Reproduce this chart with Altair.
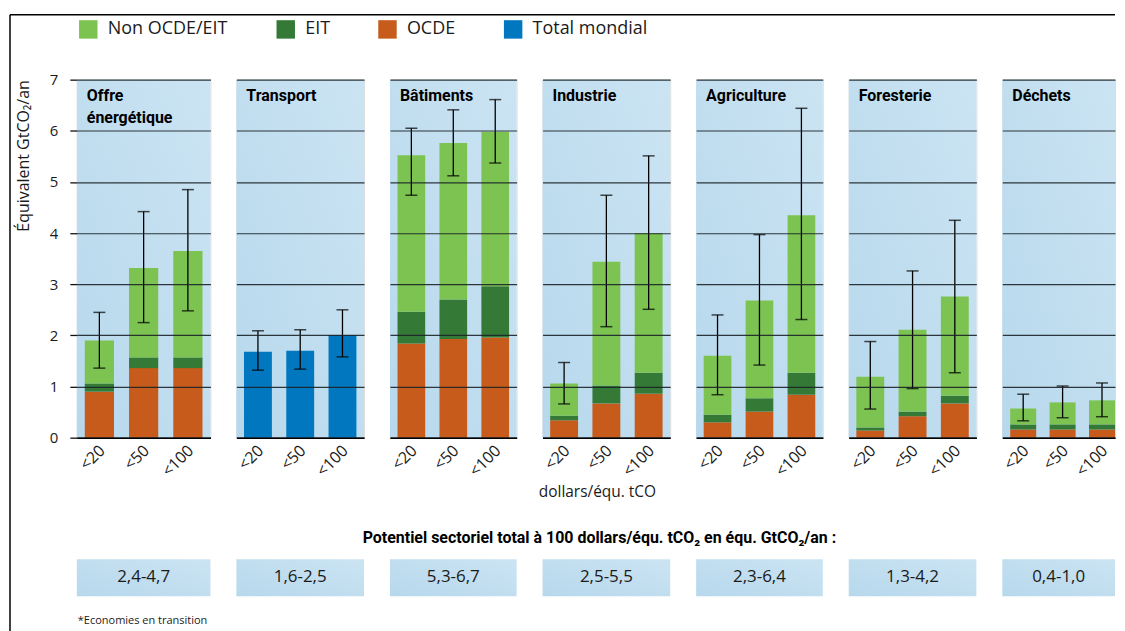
import altair as alt
import pandas as pd

# ---------------- data ----------------
sectors = ["Offre\nénergétique", "Transport", "Bâtiments", "Industrie",
           "Agriculture", "Foresterie", "Déchets"]
prices = ["<20", "<50", "<100"]
series_names = ["Non OCDE/EIT", "EIT", "OCDE", "Total mondial"]
series_colors = ["#7DC352", "#347A36", "#C75B1C", "#0077BF"]

# cumulative tops of each stacked segment (GtCO2-eq/yr)
ocde_top = [[0.90, 1.36, 1.36], None, [1.84, 1.93, 1.96], [0.34, 0.67, 0.86],
            [0.30, 0.51, 0.84], [0.14, 0.42, 0.67], [0.16, 0.16, 0.16]]
eit_top = [[1.06, 1.57, 1.57], None, [2.46, 2.70, 2.96], [0.43, 1.02, 1.27],
           [0.45, 0.77, 1.27], [0.20, 0.51, 0.82], [0.26, 0.26, 0.26]]
total_top = [[1.90, 3.32, 3.65], [1.68, 1.70, 2.01], [5.52, 5.76, 5.98],
             [1.06, 3.44, 4.00], [1.60, 2.68, 4.35], [1.19, 2.11, 2.76],
             [0.57, 0.69, 0.73]]
err_low = [[1.36, 2.25, 2.48], [1.32, 1.34, 1.58], [4.74, 5.12, 5.37],
           [0.66, 2.17, 2.51], [0.84, 1.42, 2.31], [0.56, 0.96, 1.27],
           [0.33, 0.39, 0.41]]
err_high = [[2.45, 4.42, 4.85], [2.09, 2.11, 2.50], [6.05, 6.41, 6.61],
            [1.47, 4.74, 5.51], [2.40, 3.97, 6.44], [1.88, 3.26, 4.25],
            [0.85, 1.01, 1.07]]
potential_ranges = ["2,4-4,7", "1,6-2,5", "5,3-6,7", "2,5-5,5",
                    "2,3-6,4", "1,3-4,2", "0,4-1,0"]
y_ticks = [0, 1, 2, 3, 4, 5, 6, 7]

# ---------------- layout / style ----------------
panel_widths = [134, 128, 127, 128, 127, 128, 113]
H = 359
FONT = "Open Sans"
BOLD = "Roboto"

bg_grad = alt.LinearGradient(
    gradient="linear",
    stops=[alt.GradientStop(color="#B7D8EC", offset=0),
           alt.GradientStop(color="#CBE4F3", offset=1)],
    x1=0, y1=1, x2=1, y2=0)

yscale = alt.Scale(domain=[0, 7], nice=False, zero=True)
color_scale = alt.Scale(domain=series_names, range=series_colors)
legend = alt.Legend(title=None, orient="none", legendX=2, legendY=-60,
                    direction="horizontal", symbolType="square",
                    symbolSize=342, symbolStrokeWidth=0, labelFontSize=18,
                    labelFont=FONT, labelColor="#1a1a1a", columnPadding=48,
                    labelOffset=10, labelLimit=400)

one = alt.Data(values=[{"k": 0}])

panels = []
for i, sec in enumerate(sectors):
    w = panel_widths[i]
    rows = []
    erows = []
    for j, p in enumerate(prices):
        if ocde_top[i] is None:
            rows.append(dict(price=p, series="Total mondial",
                             top=total_top[i][j], bottom=0.0))
        else:
            rows.append(dict(price=p, series="OCDE",
                             top=ocde_top[i][j], bottom=0.0))
            rows.append(dict(price=p, series="EIT",
                             top=eit_top[i][j], bottom=ocde_top[i][j]))
            rows.append(dict(price=p, series="Non OCDE/EIT",
                             top=total_top[i][j], bottom=eit_top[i][j]))
        erows.append(dict(price=p, lo=err_low[i][j], hi=err_high[i][j]))
    df = pd.DataFrame(rows)
    edf = pd.DataFrame(erows)

    if i == len(sectors) - 1:
        xscale = alt.Scale(paddingInner=0.34, paddingOuter=0.10, align=1)
    else:
        xscale = alt.Scale(paddingInner=0.34, paddingOuter=0.18)

    x_axis = alt.Axis(title=None, labelAngle=-45, labelAlign="right",
                      labelBaseline="middle", labelPadding=10, labelOffset=3,
                      labelFontSize=16, labelFont=FONT, labelColor="#1a1a1a",
                      ticks=False, domain=True, domainColor="#000000",
                      domainWidth=1.5, zindex=1)
    if i == 0:
        y_axis = alt.Axis(title="Équivalent GtCO₂/an", titleAnchor="end",
                          titleFont=FONT, titleFontSize=16,
                          titleFontWeight="normal", titleColor="#1a1a1a",
                          titlePadding=18, values=y_ticks, format="d",
                          labelFont=FONT, labelFontSize=15,
                          labelColor="#1a1a1a", labelPadding=12,
                          tickSize=7, tickColor="#111111", tickWidth=1.3,
                          domain=False, grid=True, gridColor="#1b2328",
                          gridWidth=1.2, gridOpacity=0.9, zindex=1)
    else:
        y_axis = alt.Axis(title=None, values=y_ticks, labels=False,
                          ticks=False, domain=False, grid=True,
                          gridColor="#1b2328", gridWidth=1.2,
                          gridOpacity=0.9, zindex=1)

    xenc = alt.X("price:N", sort=prices, scale=xscale, axis=x_axis)

    bg = alt.Chart(one).mark_rect(color=bg_grad).encode(
        x=alt.value(0), x2=alt.value(w), y=alt.value(0), y2=alt.value(H))

    bars = alt.Chart(df).mark_bar().encode(
        x=xenc,
        y=alt.Y("top:Q", scale=yscale, axis=y_axis),
        y2="bottom:Q",
        color=alt.Color("series:N", scale=color_scale, legend=legend))

    err = alt.Chart(edf).mark_rule(color="#000000", strokeWidth=1.3).encode(
        x=xenc, y=alt.Y("lo:Q", scale=yscale, axis=y_axis), y2="hi:Q")
    cap_lo = alt.Chart(edf).mark_tick(color="#000000", thickness=1.5,
                                      size=12).encode(
        x=xenc, y=alt.Y("lo:Q", scale=yscale, axis=y_axis))
    cap_hi = alt.Chart(edf).mark_tick(color="#000000", thickness=1.5,
                                      size=12).encode(
        x=xenc, y=alt.Y("hi:Q", scale=yscale, axis=y_axis))

    title = alt.Chart(alt.Data(values=[{"t": sec}])).mark_text(
        align="left", baseline="top", font=BOLD, fontSize=16,
        fontWeight="bold", lineBreak="\n", lineHeight=22,
        color="#000000").encode(
        x=alt.value(10), y=alt.value(8), text="t:N")

    box = alt.Chart(one).mark_rect(color=bg_grad).encode(
        x=alt.value(0), x2=alt.value(w), y=alt.value(H + 122),
        y2=alt.value(H + 159))
    box_txt = alt.Chart(alt.Data(values=[{"t": potential_ranges[i]}])).mark_text(
        align="center", baseline="middle", font=FONT, fontSize=17,
        color="#1a1a1a").encode(
        x=alt.value(w / 2), y=alt.value(H + 140), text="t:N")

    layers = [bg, bars, err, cap_lo, cap_hi, title, box, box_txt]

    if i == 0:
        frame_v = alt.Chart(one).mark_rule(color="#000000", strokeWidth=1.5).encode(
            x=alt.value(-67), y=alt.value(-65), y2=alt.value(H + 194))
        frame_h = alt.Chart(one).mark_rule(color="#000000", strokeWidth=1.5).encode(
            x=alt.value(-67), x2=alt.value(1041), y=alt.value(-65))
        foot = alt.Chart(alt.Data(values=[{"t": "*Economies en transition"}])).mark_text(
            align="left", baseline="middle", font=FONT, fontSize=11,
            color="#1a1a1a").encode(
            x=alt.value(1), y=alt.value(H + 184), text="t:N")
        layers += [frame_v, frame_h, foot]
    if i == 3:
        xt = alt.Chart(alt.Data(values=[{"t": "dollars/équ. tCO"}])).mark_text(
            align="center", baseline="middle", font=FONT, fontSize=15.5,
            color="#1a1a1a").encode(
            x=alt.value(55), y=alt.value(H + 54), text="t:N")
        sub = alt.Chart(alt.Data(values=[{"t": "Potentiel sectoriel total à 100 dollars/équ. tCO₂ en équ. GtCO₂/an :"}])).mark_text(
            align="center", baseline="middle", font=BOLD, fontSize=16,
            fontWeight="bold", color="#000000").encode(
            x=alt.value(57), y=alt.value(H + 101), text="t:N")
        layers += [xt, sub]

    panels.append(alt.layer(*layers).properties(width=w, height=H))

chart = alt.hconcat(*panels, spacing=26, bounds="flush").properties(
    padding={"left": 0, "top": 4, "right": 0, "bottom": 0}
).configure_view(stroke=None).configure(background="white")

chart.save("out.html", embed_options={"renderer": "svg", "actions": False})
